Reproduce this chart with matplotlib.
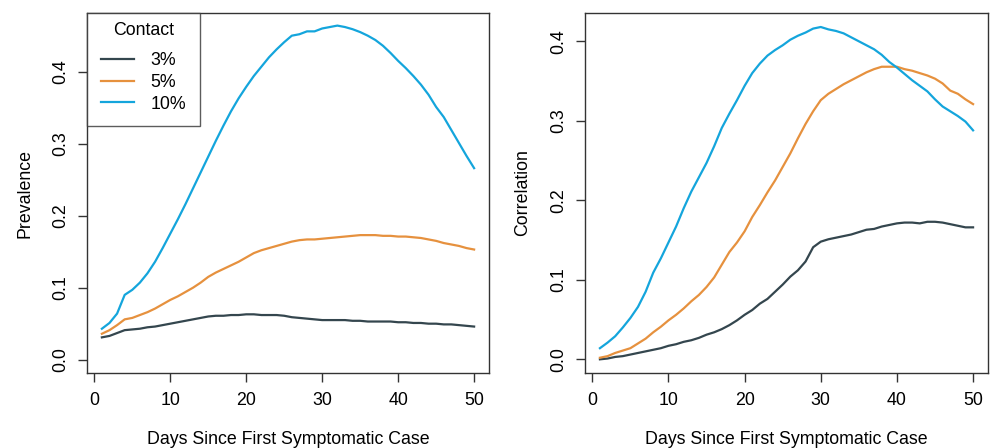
import matplotlib
matplotlib.use("Agg")
import matplotlib.pyplot as plt
import numpy as np

plt.rcParams['font.family'] = ['Liberation Sans', 'DejaVu Sans']

days = np.arange(1, 51)
contact_labels = ['3%', '5%', '10%']
colors = ['#34464e', '#e6913e', '#14a5dc']

# prevalence by contact level
prev_3 = [0.031, 0.033, 0.037, 0.041, 0.042, 0.043, 0.045, 0.046, 0.048, 0.050,
          0.052, 0.054, 0.056, 0.058, 0.060, 0.061, 0.061, 0.062, 0.062, 0.063,
          0.063, 0.062, 0.062, 0.062, 0.061, 0.059, 0.058, 0.057, 0.056, 0.055,
          0.055, 0.055, 0.055, 0.054, 0.054, 0.053, 0.053, 0.053, 0.053, 0.052,
          0.052, 0.051, 0.051, 0.050, 0.050, 0.049, 0.049, 0.048, 0.047, 0.046]
prev_5 = [0.036, 0.041, 0.048, 0.056, 0.058, 0.062, 0.066, 0.071, 0.077, 0.083,
          0.088, 0.094, 0.100, 0.107, 0.115, 0.121, 0.126, 0.131, 0.136, 0.142,
          0.148, 0.152, 0.155, 0.158, 0.161, 0.164, 0.166, 0.167, 0.167, 0.168,
          0.169, 0.170, 0.171, 0.172, 0.173, 0.173, 0.173, 0.172, 0.172, 0.171,
          0.171, 0.170, 0.169, 0.167, 0.165, 0.162, 0.160, 0.158, 0.155, 0.153]
prev_10 = [0.043, 0.051, 0.064, 0.090, 0.097, 0.107, 0.120, 0.136, 0.155, 0.175,
           0.195, 0.216, 0.238, 0.260, 0.282, 0.304, 0.325, 0.345, 0.363, 0.379,
           0.394, 0.407, 0.420, 0.431, 0.441, 0.450, 0.452, 0.456, 0.456, 0.460,
           0.462, 0.464, 0.462, 0.459, 0.455, 0.450, 0.444, 0.436, 0.426, 0.415,
           0.405, 0.394, 0.382, 0.368, 0.351, 0.337, 0.319, 0.301, 0.283, 0.266]

# correlation by contact level
corr_3 = [0.000, 0.001, 0.003, 0.004, 0.006, 0.008, 0.010, 0.012, 0.014, 0.017,
          0.019, 0.022, 0.024, 0.027, 0.031, 0.034, 0.038, 0.043, 0.049, 0.056,
          0.062, 0.070, 0.076, 0.085, 0.094, 0.104, 0.112, 0.123, 0.141, 0.148,
          0.151, 0.153, 0.155, 0.157, 0.160, 0.163, 0.164, 0.167, 0.169, 0.171,
          0.172, 0.172, 0.171, 0.173, 0.173, 0.172, 0.170, 0.168, 0.166, 0.166]
corr_5 = [0.002, 0.004, 0.008, 0.011, 0.014, 0.020, 0.026, 0.034, 0.041, 0.049,
          0.056, 0.064, 0.073, 0.081, 0.091, 0.103, 0.119, 0.135, 0.147, 0.161,
          0.179, 0.194, 0.210, 0.225, 0.242, 0.259, 0.278, 0.296, 0.312, 0.326,
          0.334, 0.340, 0.346, 0.351, 0.356, 0.361, 0.365, 0.368, 0.368, 0.368,
          0.365, 0.363, 0.360, 0.357, 0.353, 0.347, 0.338, 0.334, 0.327, 0.321]
corr_10 = [0.014, 0.021, 0.029, 0.040, 0.052, 0.066, 0.085, 0.109, 0.127, 0.147,
           0.167, 0.190, 0.211, 0.229, 0.247, 0.268, 0.291, 0.309, 0.326, 0.344,
           0.360, 0.372, 0.382, 0.389, 0.395, 0.402, 0.407, 0.411, 0.416, 0.418,
           0.415, 0.413, 0.410, 0.405, 0.400, 0.395, 0.390, 0.383, 0.374, 0.367,
           0.359, 0.351, 0.344, 0.337, 0.327, 0.318, 0.312, 0.306, 0.299, 0.288]

x_ticks = [0, 10, 20, 30, 40, 50]
y_ticks = [0.0, 0.1, 0.2, 0.3, 0.4]
y_tick_labels = ['0.0', '0.1', '0.2', '0.3', '0.4']

fs = 12.75
edge = '#333333'

fig = plt.figure(figsize=(9.95, 4.48), dpi=100)
ax1 = fig.add_axes([87 / 995, 75 / 448, 402 / 995, 360 / 448])
ax2 = fig.add_axes([585 / 995, 75 / 448, 403 / 995, 360 / 448])


def style_axes(ax, ylabel, ylim):
    ax.set_xlim(-0.96, 51.96)
    ax.set_ylim(*ylim)
    ax.set_xticks(x_ticks)
    ax.set_yticks(y_ticks)
    ax.set_yticklabels(y_tick_labels)
    for s in ax.spines.values():
        s.set_color(edge)
        s.set_linewidth(1.0)
    ax.tick_params(direction='out', length=6.5, width=1.0, color=edge,
                   labelsize=fs)
    ax.tick_params(axis='x', pad=7)
    ax.tick_params(axis='y', pad=6, labelrotation=90)
    for lab in ax.get_yticklabels():
        lab.set_va('center')
    ax.set_xlabel('Days Since First Symptomatic Case', fontsize=fs, labelpad=16)
    ax.set_ylabel(ylabel, fontsize=fs, labelpad=14)


for vals, c, lab in zip([prev_3, prev_5, prev_10], colors, contact_labels):
    ax1.plot(days, vals, color=c, lw=1.6, label=lab)
for vals, c in zip([corr_3, corr_5, corr_10], colors):
    ax2.plot(days, vals, color=c, lw=1.6)

style_axes(ax1, 'Prevalence', (-0.0185, 0.4815))
style_axes(ax2, 'Correlation', (-0.0172, 0.4356))

leg = ax1.legend(title='Contact', loc='upper left', fontsize=fs,
                 title_fontsize=fs, frameon=True, fancybox=False,
                 borderaxespad=0, borderpad=0.5, handlelength=1.9,
                 handletextpad=0.9, labelspacing=0.27)
leg.get_frame().set_edgecolor(edge)
leg.get_frame().set_linewidth(1.0)
# extra room around the entries, and a wider gap under the title
leg._legend_handle_box.pad = 3.5
leg._legend_box.sep = 6

fig.savefig('out.png', dpi=100)
